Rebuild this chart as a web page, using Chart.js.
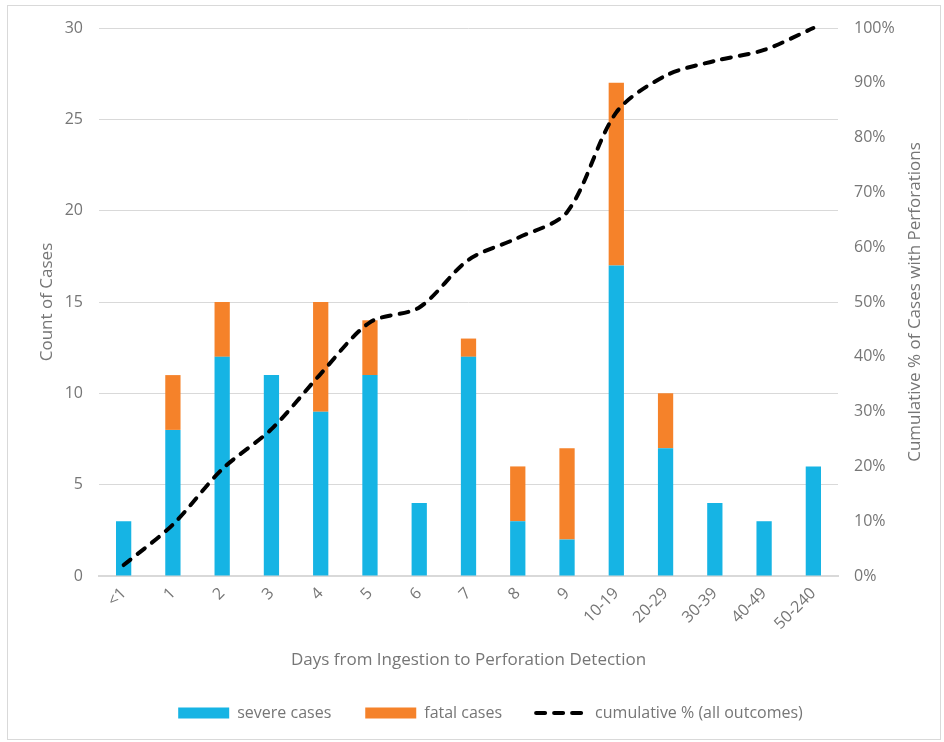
<!DOCTYPE html>
<html>
<head>
<meta charset="utf-8">
<script src="https://cdn.jsdelivr.net/npm/chart.js@4"></script>
<style>
  body { margin: 0; background: #fff; }
  #wrap { position: relative; width: 944px; height: 742px; }
  #frame { position: absolute; left: 7px; top: 5px; width: 932px; height: 733px; border: 1px solid #d9d9d9; pointer-events: none; }
</style>
</head>
<body>
<div id="wrap">
  <canvas id="chart" width="944" height="742"></canvas>
  <div id="frame"></div>
</div>
<script>
// categories and values
const days = ['<1', '1', '2', '3', '4', '5', '6', '7', '8', '9', '10-19', '20-29', '30-39', '40-49', '50-240'];
const severeCases = [3, 8, 12, 11, 9, 11, 4, 12, 3, 2, 17, 7, 4, 3, 6];
const fatalCases = [0, 3, 3, 0, 6, 3, 0, 1, 3, 5, 10, 3, 0, 0, 0];
const cumulativePct = [2.0, 9.4, 19.5, 26.8, 36.9, 46.3, 49.0, 57.7, 61.7, 66.4, 84.6, 91.3, 94.0, 96.0, 100];

const grey = '#767676';
const family = '"Open Sans", "Noto Sans", sans-serif';
const tickFont = { family: family, size: 16 };
const titleFont = { family: family, size: 17 };
const rightTitle = 'Cumulative % of Cases with Perforations';

Chart.defaults.font.family = family;
Chart.defaults.color = grey;

// right axis title reads bottom-to-top, like Excel draws it
const rightTitlePlugin = {
  id: 'rightTitle',
  afterDraw(chart) {
    const { ctx, chartArea } = chart;
    ctx.save();
    ctx.translate(915, (chartArea.top + chartArea.bottom) / 2);
    ctx.rotate(-Math.PI / 2);
    ctx.font = `${titleFont.size}px ${family}`;
    ctx.fillStyle = grey;
    ctx.textAlign = 'center';
    ctx.textBaseline = 'middle';
    ctx.fillText(rightTitle, 0, 0);
    ctx.restore();
  }
};

new Chart(document.getElementById('chart'), {
  data: {
    labels: days,
    datasets: [
      {
        type: 'bar',
        label: 'severe cases',
        data: severeCases,
        yAxisID: 'y',
        backgroundColor: '#16b4e4',
        borderWidth: 0,
        order: 1
      },
      {
        type: 'bar',
        label: 'fatal cases',
        data: fatalCases,
        yAxisID: 'y',
        backgroundColor: '#f5822a',
        borderWidth: 0,
        order: 1
      },
      {
        type: 'line',
        label: 'cumulative % (all outcomes)',
        data: cumulativePct,
        yAxisID: 'yPct',
        borderColor: '#000',
        backgroundColor: '#000',
        borderWidth: 4,
        borderDash: [9, 9],
        borderCapStyle: 'round',
        tension: 0.3,
        pointRadius: 0,
        clip: false,
        order: 0
      }
    ]
  },
  options: {
    responsive: false,
    animation: false,
    layout: { padding: { top: 28, left: 37, right: 0, bottom: 11 } },
    datasets: { bar: { barPercentage: 0.31, categoryPercentage: 1 } },
    plugins: {
      tooltip: { enabled: false },
      legend: {
        position: 'bottom',
        labels: {
          sort: (a, b) => a.datasetIndex - b.datasetIndex,
          usePointStyle: true,
          pointStyleWidth: 51,
          boxHeight: 11,
          padding: 34,
          font: { size: 16 },
          color: grey,
          generateLabels: (chart) => {
            const items = Chart.defaults.plugins.legend.labels.generateLabels(chart);
            items.forEach(it => {
              if (it.datasetIndex === 2) {
                it.pointStyle = 'line';
                it.lineDash = [9, 9];
                it.lineCap = 'round';
                it.lineWidth = 4;
                it.strokeStyle = '#000';
              } else {
                it.pointStyle = 'rect';
                it.lineWidth = 0;
              }
            });
            return items;
          }
        }
      }
    },
    scales: {
      x: {
        stacked: true,
        grid: { display: false, drawTicks: false },
        border: { color: '#d9d9d9', width: 2 },
        ticks: { minRotation: 45, maxRotation: 45, font: tickFont, color: grey, padding: 8 },
        title: { display: true, text: 'Days from Ingestion to Perforation Detection', font: titleFont, color: grey, padding: { top: 8, bottom: 1 } }
      },
      y: {
        stacked: true,
        min: 0,
        max: 30,
        ticks: { stepSize: 5, font: tickFont, color: grey, padding: 16 },
        grid: { color: '#d9d9d9', drawTicks: false },
        border: { display: false },
        title: { display: true, text: 'Count of Cases', font: titleFont, color: grey, padding: 0 },
        afterFit: (s) => { s.width = 62; }
      },
      yPct: {
        position: 'right',
        min: 0,
        max: 100,
        ticks: { stepSize: 10, font: tickFont, color: grey, padding: 16, callback: v => v + '%' },
        grid: { display: false, drawTicks: false },
        border: { display: false },
        afterFit: (s) => { s.width = 106; }
      }
    }
  },
  plugins: [rightTitlePlugin]
});
</script>
</body>
</html>
